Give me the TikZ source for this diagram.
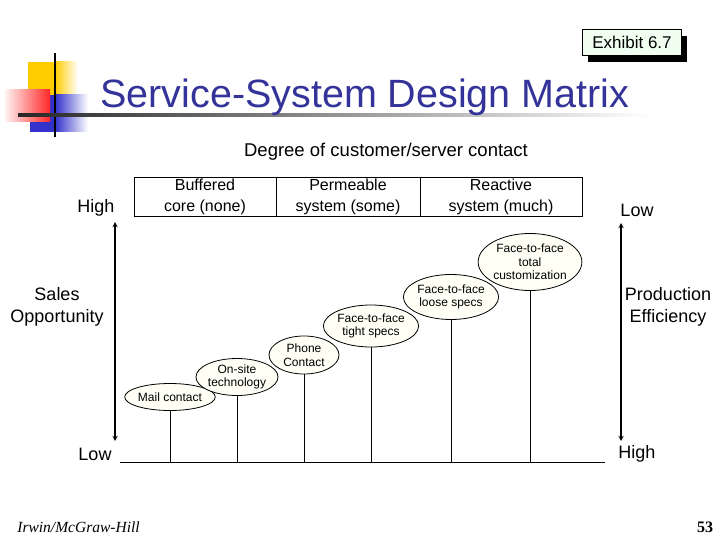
\documentclass[tikz,border=0pt]{standalone}
\usepackage{fontspec}
\setmainfont{Liberation Sans}
\newfontfamily\footfont{Liberation Serif}
\usetikzlibrary{shapes.geometric,shadows}
\definecolor{titleblue}{RGB}{51,51,153}
\definecolor{logoyellow}{RGB}{255,204,0}
\definecolor{logoblue}{RGB}{51,51,204}
\definecolor{logored}{RGB}{255,40,40}
\definecolor{exhibitgreen}{RGB}{240,255,240}
\definecolor{ovalfill}{RGB}{255,255,246}
\begin{document}
\begin{tikzpicture}[
  x=1pt, y=-1pt,
  line width=0.8pt,
  >=stealth,
  every node/.style={
    align=center,
    inner sep=0pt
  },
  oval/.style={
    ellipse,
    draw,
    fill=ovalfill,
    font=\fontsize{12}{13.5}\selectfont
  },
  cell/.style={
    draw,
    minimum height=39pt,
    font=\fontsize{16}{21}\selectfont
  },
  axislabel/.style={
    font=\fontsize{18}{22}\selectfont
  }
]
\useasboundingbox (0,0) rectangle (720,540);
\fill[logoyellow] (28,62) rectangle (55,95);
\shade[left color=logoyellow, right color=white] (55,62) rectangle (78,95);
\fill[logoblue] (30,95) rectangle (55,132);
\shade[left color=logoblue, right color=white] (55,95) rectangle (88,132);
\shade[left color=red!5, right color=logored] (5,90) rectangle (50,122);
\draw[line width=1.6pt] (55,53) -- (55,137);
\shade[left color=black!85, right color=white] (18,114) rectangle (650,116.5);
\node[anchor=base west, text=titleblue, font=\fontsize{39.5}{44}\selectfont] (title) at (100,108) {Service-System Design Matrix};
\node[draw, fill=exhibitgreen, minimum width=99pt, minimum height=26pt, font=\fontsize{17}{20}\selectfont,
  drop shadow={shadow xshift=5pt, shadow yshift=-7pt, fill=black, opacity=1}] (exhibit) at (632,42) {Exhibit 6.7};
\node[font=\fontsize{18.5}{22}\selectfont] (contact) at (386,152) {Degree of customer/server contact};
\node[cell, minimum width=142pt] (buffered) at (205,196.5) {Buffered\\core (none)};
\node[cell, minimum width=144pt] (permeable) at (348,196.5) {Permeable\\system (some)};
\node[cell, minimum width=162pt] (reactive) at (501,196.5) {Reactive\\system (much)};
\node[axislabel] (salehigh) at (96,208) {High};
\node[axislabel] (salelow) at (95,454) {Low};
\node[axislabel] (sales) at (57,307) {Sales\\Opportunity};
\node[axislabel] (prodlow) at (637,210) {Low};
\node[axislabel] (prodhigh) at (637,454) {High};
\node[axislabel] (prod) at (668,307) {Production\\Efficiency};
\coordinate (st) at (115,222);
\coordinate (sb) at (115,441);
\coordinate (pt) at (621,223);
\coordinate (pb) at (621,441);
\draw[<->, line width=1.3pt] (st) -- (sb);
\draw[<->, line width=1.3pt] (pt) -- (pb);
\coordinate (bl) at (120,462);
\coordinate (br) at (605,462);
\draw (bl) -- (br);
\node[oval, minimum width=68pt, minimum height=27pt] (mail) at (170,397) {Mail contact};
\node[oval, minimum width=74pt, minimum height=37pt] (onsite) at (237,377) {On-site\\technology};
\node[oval, minimum width=70pt, minimum height=38pt] (phone) at (304,355) {Phone\\Contact};
\node[oval, minimum width=84pt, minimum height=42pt] (tight) at (371,326) {Face-to-face\\tight specs};
\node[oval, minimum width=84pt, minimum height=45pt] (loose) at (451,297) {Face-to-face\\loose specs};
\node[oval, minimum width=97pt, minimum height=57pt] (total) at (530,262) {Face-to-face\\total\\customization};
\coordinate (b1) at (170,462);
\coordinate (b2) at (237,462);
\coordinate (b3) at (304,462);
\coordinate (b4) at (371,462);
\coordinate (b5) at (451,462);
\coordinate (b6) at (530,462);
\draw (b1) -- (mail.south);
\draw (b2) -- (onsite.south);
\draw (b3) -- (phone.south);
\draw (b4) -- (tight.south);
\draw (b5) -- (loose.south);
\draw (b6) -- (total.south);
\node[anchor=west, font=\footfont\itshape\fontsize{15.5}{17}\selectfont] (publisher) at (17,527) {Irwin/McGraw-Hill};
\node[font=\footfont\bfseries\fontsize{16}{18}\selectfont] (page) at (705,527) {53};
\end{tikzpicture}
\end{document}
